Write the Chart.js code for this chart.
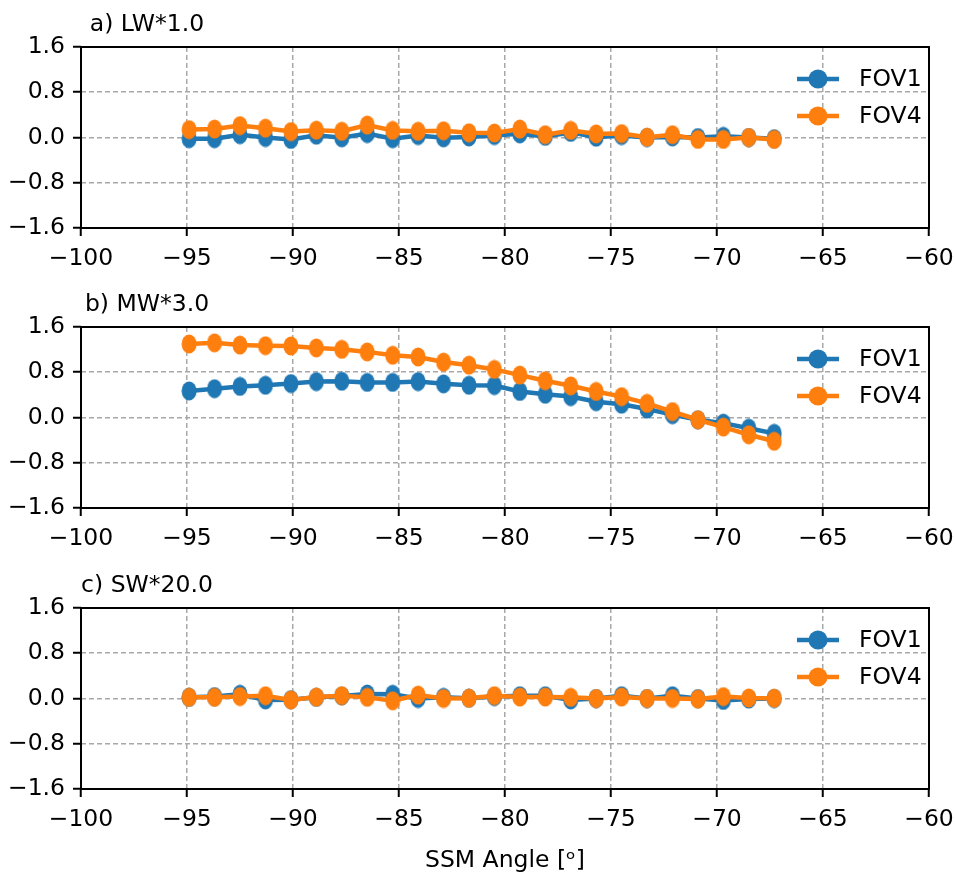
<!DOCTYPE html>
<html>
<head>
<meta charset="utf-8">
<title>SSM angle dependence</title>
<script src="https://cdn.jsdelivr.net/npm/chart.js@4/dist/chart.umd.min.js"></script>
<style>
  html, body { margin: 0; padding: 0; background: #fff; }
  #wrap { position: relative; width: 955px; height: 879px; }
  #wrap canvas { position: absolute; left: 0; }
</style>
</head>
<body>
<div id="wrap">
  <canvas id="panel-lw" width="955" height="290" style="top:0px"></canvas>
  <canvas id="panel-mw" width="955" height="290" style="top:280px"></canvas>
  <canvas id="panel-sw" width="955" height="318" style="top:561px"></canvas>
</div>
<script>
// SSM angles (deg) shared by every panel
const angles = [-94.9, -93.7, -92.5, -91.3, -90.1, -88.9, -87.7, -86.5, -85.3, -84.1, -82.9, -81.7,
                -80.5, -79.3, -78.1, -76.9, -75.7, -74.5, -73.3, -72.1, -70.9, -69.7, -68.5, -67.3];

// a) LW, scaled by 1.0
const lwFov1 = [-0.02, -0.02, 0.05, 0.0, -0.035, 0.04, -0.005, 0.07, -0.02, 0.035, -0.005, 0.01,
                0.035, 0.065, 0.02, 0.09, 0.005, 0.035, 0.0, 0.01, 0.0, 0.02, 0.0, -0.02];
const lwFov4 = [0.14, 0.15, 0.21, 0.165, 0.105, 0.13, 0.11, 0.22, 0.125, 0.11, 0.12, 0.085,
                0.08, 0.15, 0.05, 0.125, 0.065, 0.07, 0.005, 0.05, -0.035, -0.035, 0.0, -0.035];

// b) MW, scaled by 3.0
const mwFov1 = [0.47, 0.51, 0.55, 0.57, 0.60, 0.635, 0.64, 0.62, 0.62, 0.635, 0.595, 0.57,
                0.565, 0.46, 0.41, 0.37, 0.28, 0.235, 0.15, 0.05, -0.04, -0.10, -0.19, -0.28];
const mwFov4 = [1.30, 1.32, 1.28, 1.27, 1.265, 1.23, 1.205, 1.16, 1.10, 1.07, 0.98, 0.925,
                0.85, 0.75, 0.65, 0.56, 0.46, 0.37, 0.25, 0.105, -0.04, -0.17, -0.305, -0.42];

// c) SW, scaled by 20.0
const swFov1 = [0.02, 0.035, 0.075, -0.025, -0.02, 0.02, 0.045, 0.08, 0.075, 0.0, 0.02, 0.005,
                0.035, 0.05, 0.05, -0.025, 0.0, 0.05, 0.0, 0.05, 0.0, -0.035, -0.01, 0.0];
const swFov4 = [0.02, 0.02, 0.035, 0.05, -0.025, 0.025, 0.05, 0.02, -0.04, 0.06, 0.0, 0.005,
                0.05, 0.025, 0.025, 0.02, 0.0, 0.025, 0.0, 0.0, -0.01, 0.035, 0.01, 0.005];

const seriesNames = ["FOV1", "FOV4"];
const xTicks = [-100, -60, 5];      // min, max, step
const yTicks = [-1.6, 1.6, 0.8];    // min, max, step

const BLUE = '#1f77b4';
const ORANGE = '#ff7f0e';
const FONT = '"DejaVu Sans", sans-serif';
const FONT_SIZE = 23.5;

Chart.defaults.font.family = FONT;
Chart.defaults.font.size = FONT_SIZE;
Chart.defaults.color = '#000';

// slightly tall oval markers
function makeDot(color) {
    const c = document.createElement('canvas');
    c.width = 16;
    c.height = 20;
    const g = c.getContext('2d');
    g.fillStyle = color;
    g.beginPath();
    g.ellipse(8, 10, 7.5, 9.5, 0, 0, Math.PI * 2);
    g.fill();
    return c;
}

const minus = (s) => String(s).replace('-', '\u2212');

// frame, panel title and in-axes legend
const panelDecor = {
    id: 'panelDecor',
    afterDraw(chart, args, opts) {
        const { ctx, chartArea: area } = chart;
        ctx.save();
        ctx.strokeStyle = '#000';
        ctx.lineWidth = 2;
        ctx.strokeRect(area.left, area.top, area.right - area.left, area.bottom - area.top);

        ctx.fillStyle = '#000';
        ctx.font = FONT_SIZE + 'px ' + FONT;
        ctx.textAlign = 'center';
        ctx.textBaseline = 'alphabetic';
        ctx.fillText(opts.title, area.left + 66, area.top - 16);

        ctx.textAlign = 'left';
        ctx.textBaseline = 'middle';
        chart.data.datasets.forEach((ds, i) => {
            const y = area.top + 32 + i * 37;
            const x0 = area.right - 132;
            ctx.strokeStyle = ds.borderColor;
            ctx.lineWidth = 4.5;
            ctx.beginPath();
            ctx.moveTo(x0, y);
            ctx.lineTo(x0 + 42, y);
            ctx.stroke();
            ctx.fillStyle = ds.borderColor;
            ctx.beginPath();
            ctx.arc(x0 + 21, y, 9.5, 0, Math.PI * 2);
            ctx.fill();
            ctx.fillStyle = '#000';
            ctx.fillText(ds.label, area.right - 70, y + 1);
        });
        ctx.restore();
    }
};

function series(label, values, color, order) {
    return {
        label: label,
        data: angles.map((a, i) => ({ x: a, y: values[i] })),
        borderColor: color,
        backgroundColor: color,
        borderWidth: 4.5,
        pointStyle: makeDot(color),
        pointRadius: 8,
        tension: 0,
        order: order
    };
}

function makePanel(canvasId, title, fov1, fov4, withXLabel) {
    const gridOpts = {
        color: '#a8a8a8',
        lineWidth: 1.5,
        tickColor: '#000',
        tickWidth: 2,
        tickLength: 8
    };
    return new Chart(document.getElementById(canvasId), {
        type: 'line',
        data: {
            datasets: [
                series(seriesNames[0], fov1, BLUE, 1),
                series(seriesNames[1], fov4, ORANGE, 0)
            ]
        },
        options: {
            responsive: false,
            devicePixelRatio: 1,
            animation: false,
            layout: { padding: { top: 47, right: 26, left: 0, bottom: 0 } },
            scales: {
                x: {
                    type: 'linear',
                    min: xTicks[0],
                    max: xTicks[1],
                    ticks: { stepSize: xTicks[2], padding: 9, callback: (v) => minus(v) },
                    grid: gridOpts,
                    border: { display: false, dash: [5, 3] },
                    title: {
                        display: withXLabel,
                        text: 'SSM Angle [\u1D52]',
                        padding: { top: 4, bottom: 4 }
                    },
                    afterFit: (scale) => {
                        scale.height = withXLabel ? 90 : 62;
                        scale.paddingLeft = 0;
                        scale.paddingRight = 0;
                    }
                },
                y: {
                    min: yTicks[0],
                    max: yTicks[1],
                    ticks: { stepSize: yTicks[2], padding: 8, callback: (v) => minus(v.toFixed(1)) },
                    grid: gridOpts,
                    border: { display: false, dash: [5, 3] },
                    afterFit: (scale) => {
                        scale.width = 81;
                        scale.paddingTop = 0;
                        scale.paddingBottom = 0;
                    }
                }
            },
            plugins: {
                legend: { display: false },
                tooltip: { enabled: false },
                panelDecor: { title: title }
            }
        },
        plugins: [panelDecor]
    });
}

makePanel('panel-lw', 'a) LW*1.0', lwFov1, lwFov4, false);
makePanel('panel-mw', 'b) MW*3.0', mwFov1, mwFov4, false);
makePanel('panel-sw', 'c) SW*20.0', swFov1, swFov4, true);
</script>
</body>
</html>
